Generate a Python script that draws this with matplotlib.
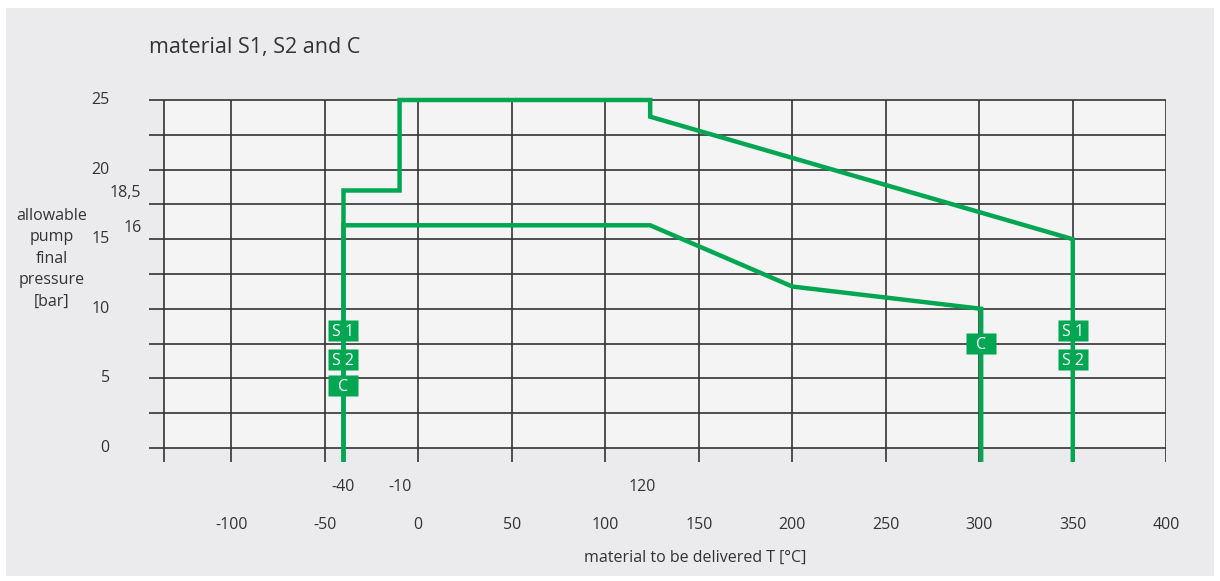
import matplotlib
matplotlib.use('Agg')
import matplotlib.pyplot as plt
from matplotlib.patches import Rectangle
from matplotlib.path import Path
import numpy as np

plt.rcParams['font.family'] = ['Open Sans', 'DejaVu Sans']

# data
s12_x = [-40, -40, -10, -10, 124, 124, 350, 350]
s12_y = [-1, 18.5, 18.5, 25, 25, 23.8, 15, -1]
c_x = [-40, -40, 124, 200, 301, 301]
c_y = [-1, 16, 16, 11.6, 10, -1]

x_ticks = [-100, -50, 0, 50, 100, 150, 200, 250, 300, 350, 400]
y_ticks = [0, 5, 10, 15, 20, 25]
x_extra = [-40, -10, 120]
y_extra = [18.5, 16]
y_extra_lbl = ['18,5', '16']

tag_text = ['S 1', 'S 2', 'C', 'C', 'S 1', 'S 2']
tag_x = [-40, -40, -40, 301, 350, 350]
tag_y = [8.5, 6.4, 4.55, 7.55, 8.5, 6.4]

green = '#00a651'
grid_c = '#333333'
txt_c = '#333333'

W, H = 1220, 581
fig = plt.figure(figsize=(W / 100, H / 100), dpi=100)
fig.patch.set_facecolor('white')
fig.patches.append(Rectangle((6 / W, 5 / H), 1208 / W, 568 / H, transform=fig.transFigure,
                             fc='#ebebed', ec='none', zorder=-10))

# axes placed so that x -144..400 -> px 149..1166, y -1.5..25.5 -> px 469..93
x0, x1 = -144, 400
y0, y1 = -1.5, 25.5
px_l, px_r = 149, 1166.3
py_b, py_t = 448 + 1.5 * 13.92, 448 - 25.5 * 13.92
ax = fig.add_axes([px_l / W, 1 - py_b / H, (px_r - px_l) / W, (py_b - py_t) / H])
ax.set_xlim(x0, x1)
ax.set_ylim(y0, y1)
ax.axis('off')

# plot area
ax.add_patch(Rectangle((-136, 0), 536, 25, fc='#f4f4f4', ec='none', zorder=0))

# grid
for yv in np.arange(0, 25.1, 2.5):
    ax.plot([x0, 400], [yv, yv], color=grid_c, lw=1.2, zorder=1, solid_capstyle='butt')
for xv in [-136] + x_ticks:
    ax.plot([xv, xv], [-1, 25], color=grid_c, lw=1.2, zorder=1, solid_capstyle='butt')

# curves
ax.plot(s12_x, s12_y, color=green, lw=3.2, zorder=3, solid_joinstyle='miter', solid_capstyle='butt')
ax.plot(c_x, c_y, color=green, lw=3.2, zorder=3, solid_joinstyle='miter', solid_capstyle='butt')

# material tags: fixed-size rectangles (30x21 px)
box_path = Path([(-15, -10.5), (15, -10.5), (15, 10.5), (-15, 10.5), (-15, -10.5)],
                [Path.MOVETO, Path.LINETO, Path.LINETO, Path.LINETO, Path.CLOSEPOLY])
ax.plot(tag_x, tag_y, ls='none', marker=box_path, markersize=30 * 0.72,
        markerfacecolor=green, markeredgecolor='none', zorder=4)
for t, xv, yv in zip(tag_text, tag_x, tag_y):
    ax.text(xv, yv, t, color='white', fontsize=11.5, ha='center', va='center_baseline', zorder=5)

# tick labels
for yv in y_ticks:
    ax.text(-165, yv, str(yv), ha='right', va='center', fontsize=11.5, color=txt_c, clip_on=False)
for yv, lbl in zip(y_extra, y_extra_lbl):
    ax.text(-148, yv - 0.2, lbl, ha='right', va='center', fontsize=11.5, color=txt_c, clip_on=False)
for xv in x_ticks:
    ax.text(xv, -5.5, str(xv), ha='center', va='center', fontsize=11.5, color=txt_c, clip_on=False)
for xv in x_extra:
    ax.text(xv, -2.8, str(xv), ha='center', va='center', fontsize=11.5, color=txt_c, clip_on=False)

ax.text(-196, 13.6, 'allowable\npump\nfinal\npressure\n[bar]', ha='center', va='center',
        fontsize=11.5, color=txt_c, linespacing=1.45, clip_on=False)
ax.text(148, -7.9, 'material to be delivered T [°C]', ha='center', va='center',
        fontsize=11.5, color=txt_c, clip_on=False)

fig.text(149 / W, 1 - 47 / H, 'material S1, S2 and C', ha='left', va='center',
         fontsize=15.5, color=txt_c)

fig.savefig('out.png', dpi=100, facecolor=fig.get_facecolor())
